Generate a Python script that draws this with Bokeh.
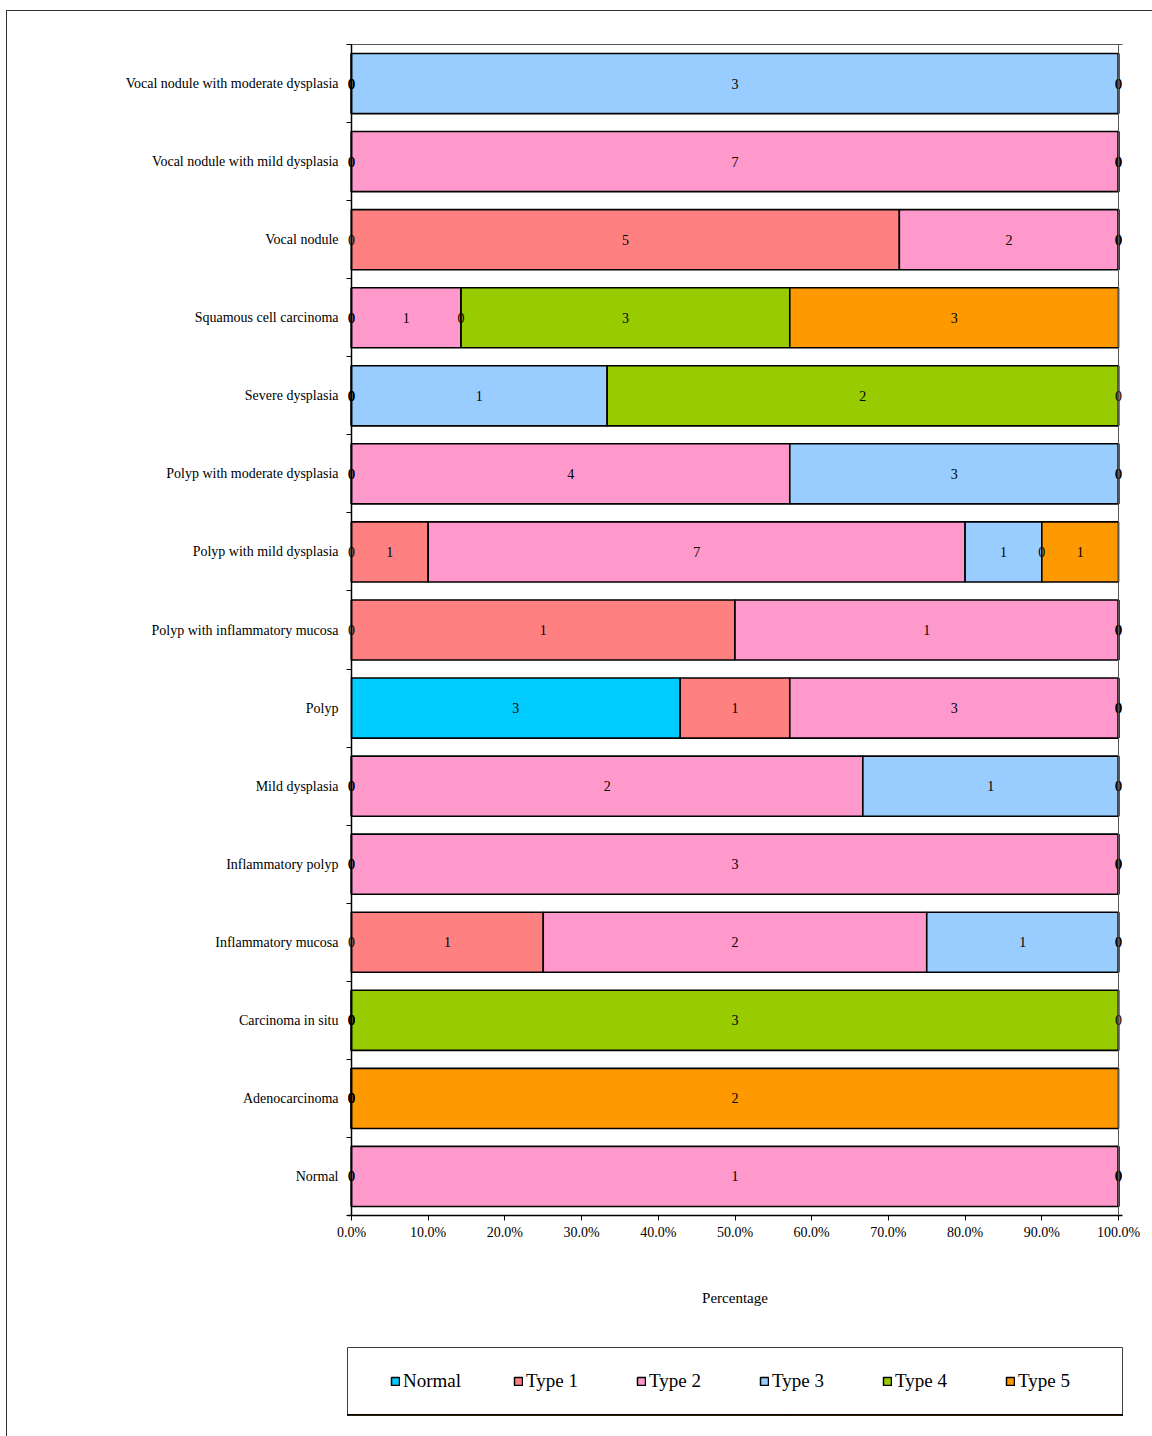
from bokeh.plotting import figure
from bokeh.layouts import column
from bokeh.models import (FixedTicker, NumeralTickFormatter, Range1d, Legend, LegendItem,
                          ColumnDataSource, LabelSet, Span, LinearAxis)
from bokeh.embed import file_html
from bokeh.resources import INLINE

# ---------------- data (bottom-to-top category order) ----------------
categories = ["Normal", "Adenocarcinoma", "Carcinoma in situ", "Inflammatory mucosa",
              "Inflammatory polyp", "Mild dysplasia", "Polyp", "Polyp with inflammatory mucosa",
              "Polyp with mild dysplasia", "Polyp with moderate dysplasia", "Severe dysplasia",
              "Squamous cell carcinoma", "Vocal nodule", "Vocal nodule with mild dysplasia",
              "Vocal nodule with moderate dysplasia"]
series_names = ["Normal", "Type 1", "Type 2", "Type 3", "Type 4", "Type 5"]
normal = [0, 0, 0, 0, 0, 0, 3, 0, 0, 0, 0, 0, 0, 0, 0]
type1 = [0, 0, 0, 1, 0, 0, 1, 1, 1, 0, 0, 0, 5, 0, 0]
type2 = [1, 0, 0, 2, 3, 2, 3, 1, 7, 4, 0, 1, 2, 7, 0]
type3 = [0, 0, 0, 1, 0, 1, 0, 0, 1, 3, 1, 0, 0, 0, 3]
type4 = [0, 0, 3, 0, 0, 0, 0, 0, 0, 0, 2, 3, 0, 0, 0]
type5 = [0, 2, 0, 0, 0, 0, 0, 0, 1, 0, 0, 3, 0, 0, 0]
colors = ["#00CCFF", "#FF8080", "#FF99CC", "#99CCFF", "#99CC00", "#FF9900"]
x_ticks = [0.0, 0.1, 0.2, 0.3, 0.4, 0.5, 0.6, 0.7, 0.8, 0.9, 1.0]
x_title = "Percentage"

FONT = "Liberation Serif"

counts = [normal, type1, type2, type3, type4, type5]
keys = ["normal", "type1", "type2", "type3", "type4", "type5"]
n = len(categories)
ypos = list(range(n))
totals = [sum(c[i] for c in counts) for i in range(n)]

data = {"y": ypos}
for k, c in zip(keys, counts):
    data[k] = [v / t for v, t in zip(c, totals)]
src = ColumnDataSource(data)

# data labels: centre of each stacked segment (zero-width segments give the "0" labels)
lx, ly, lt = [], [], []
for i in range(n):
    start = 0.0
    for c in counts:
        frac = c[i] / totals[i]
        lx.append(start + frac / 2)
        ly.append(ypos[i])
        lt.append(str(c[i]))
        start += frac
lbl_src = ColumnDataSource(dict(x=lx, y=ly, t=lt))

PLOT_W = 767            # pixel width of the 0..100 % plot area
PAD = 4                 # small room so the "0" labels at the edges are not clipped
pad = PAD / PLOT_W

# ---------------- main chart ----------------
p = figure(width=1145, height=1309,
           x_range=Range1d(-pad, 1 + pad), y_range=Range1d(-0.5, n - 0.5),
           output_backend="svg", toolbar_location=None,
           min_border_left=340, min_border_right=30, min_border_top=33, min_border_bottom=105)

renderers = p.hbar_stack(keys, y="y", height=0.77, source=src,
                         fill_color=colors, line_color="black", line_width=1.6)

labels = LabelSet(x="x", y="y", text="t", source=lbl_src, text_align="center",
                  text_baseline="middle", text_font=FONT, text_font_size="14px",
                  text_color="black")
p.add_layout(labels)

p.xgrid.visible = False
p.ygrid.visible = False
p.outline_line_color = None
p.background_fill_color = "white"

# y axis: category names at centres, tick marks at band boundaries
yax = p.left[0]
yax.ticker = FixedTicker(ticks=ypos, minor_ticks=[i - 0.5 for i in range(n + 1)])
yax.major_label_overrides = {i: c for i, c in zip(ypos, categories)}
yax.major_tick_out = 0
yax.major_tick_in = 0
yax.minor_tick_out = 1
yax.minor_tick_in = PAD
yax.minor_tick_line_color = "black"
yax.major_label_standoff = 8
yax.major_label_text_font = FONT
yax.major_label_text_font_size = "14px"
yax.major_label_text_color = "black"
yax.axis_line_color = None

xax = p.below[0]
xax.ticker = FixedTicker(ticks=x_ticks, minor_ticks=[])
xax.formatter = NumeralTickFormatter(format="0.0%")
xax.major_tick_out = 5
xax.major_tick_in = 0
xax.major_tick_line_color = "black"
xax.major_label_standoff = 4
xax.major_label_text_font = FONT
xax.major_label_text_font_size = "14px"
xax.major_label_text_color = "black"
xax.axis_line_color = "black"
xax.axis_line_width = 1.5
xax.axis_label = x_title
xax.axis_label_text_font = FONT
xax.axis_label_text_font_size = "15px"
xax.axis_label_text_font_style = "normal"
xax.axis_label_text_color = "black"
xax.axis_label_standoff = 47

# plot-area border: left line at 0 %, right and top in grey
p.add_layout(Span(location=0, dimension="height", line_color="black", line_width=1.5))
p.add_layout(Span(location=1, dimension="height", line_color="#555555", line_width=1))
top_axis = LinearAxis(ticker=FixedTicker(ticks=[], minor_ticks=[]), axis_line_color="#555555",
                      axis_line_width=1, major_tick_out=0, major_tick_in=0,
                      minor_tick_out=0, minor_tick_in=0, major_label_text_font_size="0px")
p.add_layout(top_axis, "above")

# ---------------- legend strip (its frame is the legend box) ----------------
# same stacked series drawn again, but the y range is set beyond the data so only
# the legend swatches show
q = figure(width=1145, height=116, x_range=Range1d(0, 1), y_range=Range1d(n + 1, n + 2),
           output_backend="svg", toolbar_location=None,
           x_axis_location=None, y_axis_location=None,
           min_border_left=340, min_border_right=30, min_border_top=27, min_border_bottom=21)
q.xgrid.visible = False
q.ygrid.visible = False
q.outline_line_color = "#404040"
q.outline_line_width = 1
leg_renderers = q.hbar_stack(keys, y="y", height=0.77, source=src,
                             fill_color=colors, line_color="black", line_width=1.5)
legend = Legend(items=[LegendItem(label=nm, renderers=[r]) for nm, r in zip(series_names, leg_renderers)],
                orientation="horizontal", location=(43, 23), margin=0,
                padding=0, spacing=0, glyph_width=10, glyph_height=10, label_standoff=3,
                label_width=110,
                label_text_font=FONT, label_text_font_size="19px", label_text_color="black",
                border_line_color=None, background_fill_alpha=0)
q.add_layout(legend)

layout = column(p, q, spacing=0)
layout.styles = {"margin-left": "6px", "margin-top": "10px",
                 "border-left": "1px solid #333333", "border-top": "1px solid #333333"}

open("out.html", "w").write(file_html(layout, INLINE))
